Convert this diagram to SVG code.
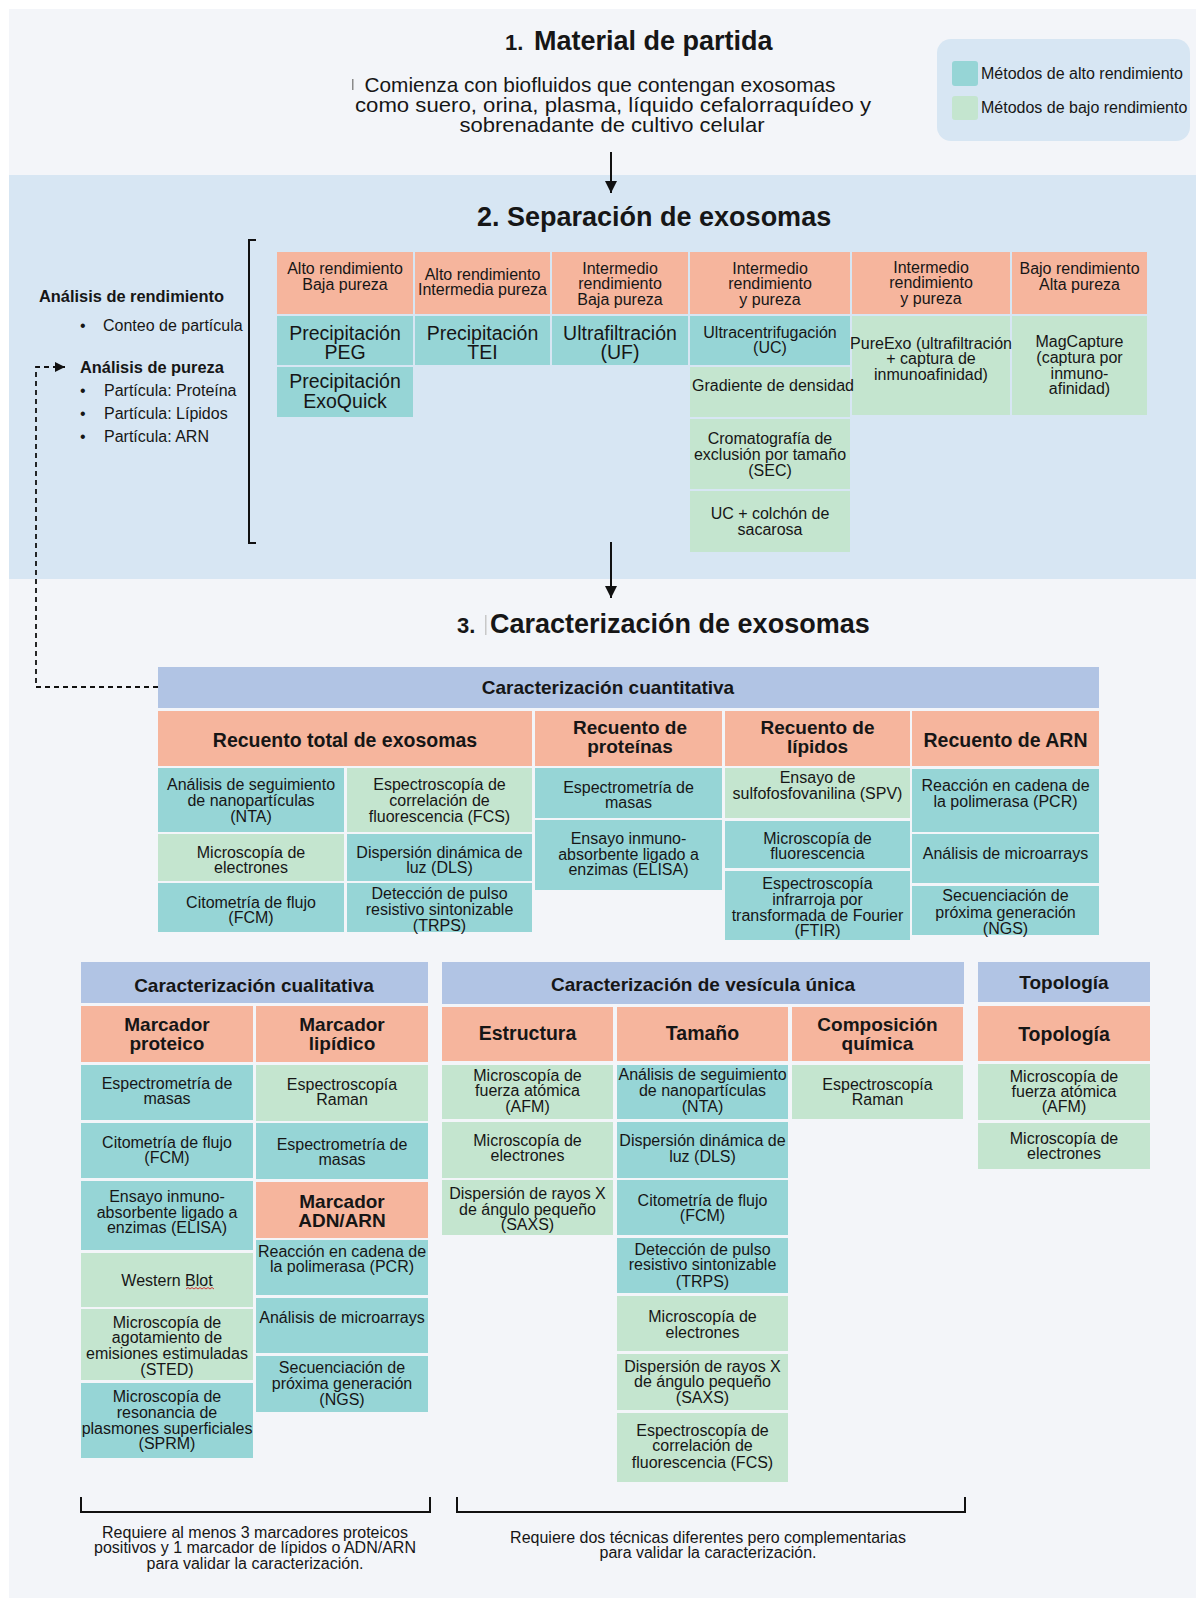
<svg xmlns="http://www.w3.org/2000/svg" width="1196" height="1598" viewBox="0 0 1196 1598">
<defs>
<style>
.hi{fill:#96d5d6}
.lo{fill:#c4e5cf}
.hd{fill:#f6b59d}
.bar{fill:#b1c4e4}
text{font-family:"Liberation Sans",Arial,sans-serif;fill:#161616}
.c{font-size:16px;text-anchor:middle}
.l20{font-size:19.5px;text-anchor:middle}
.bh{font-size:19.5px;font-weight:bold;text-anchor:middle}
.b2{font-size:19px;font-weight:bold;text-anchor:middle}
.tt{font-size:27px;font-weight:bold}
.lt{font-size:16px}
.lb{font-size:16.4px;font-weight:bold}
.ln{stroke:#111;stroke-width:2;fill:none}
</style>
<marker id="ah" viewBox="0 0 12 12" refX="12" refY="6" markerWidth="12" markerHeight="12" markerUnits="userSpaceOnUse" orient="auto"><path d="M0,0L12,6L0,12z" fill="#111"/></marker>
<marker id="ah2" viewBox="0 0 10 10" refX="10" refY="5" markerWidth="10" markerHeight="10" markerUnits="userSpaceOnUse" orient="auto"><path d="M0,0L10,5L0,10z" fill="#111"/></marker>
</defs>
<rect width="1196" height="1598" fill="#ffffff"/>
<rect x="9" y="9" width="1187" height="1589" fill="#f3f5f9"/>
<rect x="9" y="175" width="1187" height="404" fill="#d7e6f3"/>

<g id="legend">
<rect x="937" y="39" width="253" height="102" rx="14" fill="#d7e6f3"/>
<rect class="hi" x="952" y="61" width="26" height="25" rx="3"/>
<rect class="lo" x="952" y="96" width="26" height="24" rx="3"/>
<text class="lt" x="981" y="79">Métodos de alto rendimiento</text>
<text class="lt" x="981" y="113">Métodos de bajo rendimiento</text>
</g>

<g id="step1">
<text class="tt" x="505" y="50" style="font-size:22px">1.</text>
<text class="tt" x="534" y="50">Material de partida</text>
<rect x="352" y="79" width="1.5" height="11" fill="#8a8a8a"/>
<text style="font-size:21px;text-anchor:middle"><tspan x="600" y="92" textLength="471" lengthAdjust="spacingAndGlyphs">Comienza con biofluidos que contengan exosomas</tspan><tspan x="613" y="112" textLength="516" lengthAdjust="spacingAndGlyphs">como suero, orina, plasma, líquido cefalorraquídeo y</tspan><tspan x="612" y="132" textLength="305" lengthAdjust="spacingAndGlyphs">sobrenadante de cultivo celular</tspan></text>
</g>

<g id="step2-title">
<text class="tt" x="477" y="226">2. Separación de exosomas</text>
</g>

<g id="analysis">
<text class="lb" x="39" y="302">Análisis de rendimiento</text>
<text class="lt" x="80" y="331">•</text>
<text class="lt" x="103" y="331">Conteo de partícula</text>
<text class="lb" x="80" y="373">Análisis de pureza</text>
<text class="lt" x="80" y="396">•</text>
<text class="lt" x="104" y="396">Partícula: Proteína</text>
<text class="lt" x="80" y="419">•</text>
<text class="lt" x="104" y="419">Partícula: Lípidos</text>
<text class="lt" x="80" y="442">•</text>
<text class="lt" x="104" y="442">Partícula: ARN</text>
<path class="ln" d="M256,240H249V543H256"/>
</g>

<g id="sep-h1"><rect class="hd" x="277" y="252" width="136" height="62"/><text class="c"><tspan x="345" y="274">Alto rendimiento</tspan><tspan x="345" y="290">Baja pureza</tspan></text></g>
<g id="sep-h2"><rect class="hd" x="415" y="252" width="135" height="62"/><text class="c"><tspan x="482.5" y="280">Alto rendimiento</tspan><tspan x="482.5" y="295">Intermedia pureza</tspan></text></g>
<g id="sep-h3"><rect class="hd" x="552" y="252" width="136" height="62"/><text class="c"><tspan x="620" y="274">Intermedio</tspan><tspan x="620" y="289">rendimiento</tspan><tspan x="620" y="305">Baja pureza</tspan></text></g>
<g id="sep-h4"><rect class="hd" x="690" y="252" width="160" height="62"/><text class="c"><tspan x="770" y="274">Intermedio</tspan><tspan x="770" y="289">rendimiento</tspan><tspan x="770" y="305">y pureza</tspan></text></g>
<g id="sep-h5"><rect class="hd" x="852" y="252" width="158" height="62"/><text class="c"><tspan x="931" y="273">Intermedio</tspan><tspan x="931" y="288">rendimiento</tspan><tspan x="931" y="304">y pureza</tspan></text></g>
<g id="sep-h6"><rect class="hd" x="1012" y="252" width="135" height="62"/><text class="c"><tspan x="1079.5" y="274">Bajo rendimiento</tspan><tspan x="1079.5" y="290">Alta pureza</tspan></text></g>

<g id="sep-peg"><rect class="hi" x="277" y="316" width="136" height="49"/><text class="l20"><tspan x="345" y="340">Precipitación</tspan><tspan x="345" y="359">PEG</tspan></text></g>
<g id="sep-tei"><rect class="hi" x="415" y="316" width="135" height="49"/><text class="l20"><tspan x="482.5" y="340">Precipitación</tspan><tspan x="482.5" y="359">TEI</tspan></text></g>
<g id="sep-uf"><rect class="hi" x="552" y="316" width="136" height="49"/><text class="l20"><tspan x="620" y="340">Ultrafiltración</tspan><tspan x="620" y="359">(UF)</tspan></text></g>
<g id="sep-uc"><rect class="hi" x="690" y="316" width="160" height="49"/><text class="c"><tspan x="770" y="338">Ultracentrifugación</tspan><tspan x="770" y="353">(UC)</tspan></text></g>
<g id="sep-exoquick"><rect class="hi" x="277" y="367" width="136" height="50"/><text class="l20"><tspan x="345" y="388">Precipitación</tspan><tspan x="345" y="408">ExoQuick</tspan></text></g>
<g id="sep-sec"><rect class="lo" x="690" y="419" width="160" height="70"/><text class="c"><tspan x="770" y="444">Cromatografía de</tspan><tspan x="770" y="460">exclusión por tamaño</tspan><tspan x="770" y="476">(SEC)</tspan></text></g>
<g id="sep-sac"><rect class="lo" x="690" y="491" width="160" height="61"/><text class="c"><tspan x="770" y="519">UC + colchón de</tspan><tspan x="770" y="535">sacarosa</tspan></text></g>
<g id="sep-pureexo"><rect class="lo" x="852" y="316" width="158" height="99"/><text class="c"><tspan x="931" y="349">PureExo (ultrafiltración</tspan><tspan x="931" y="364">+ captura de</tspan><tspan x="931" y="380">inmunoafinidad)</tspan></text></g>
<g id="sep-grad"><rect class="lo" x="690" y="367" width="160" height="50"/><text class="c"><tspan x="773" y="391">Gradiente de densidad</tspan></text></g>
<g id="sep-mag"><rect class="lo" x="1012" y="316" width="135" height="99"/><text class="c"><tspan x="1079.5" y="347">MagCapture</tspan><tspan x="1079.5" y="363">(captura por</tspan><tspan x="1079.5" y="379">inmuno-</tspan><tspan x="1079.5" y="394">afinidad)</tspan></text></g>

<g id="step3-title">
<text class="tt" x="457" y="633" style="font-size:22px">3.</text>
<rect x="485" y="615" width="1.5" height="20" fill="#c8c8c8"/>
<text class="tt" x="490" y="633">Caracterización de exosomas</text>
</g>

<g id="q-bar"><rect class="bar" x="158" y="667" width="941" height="41"/><text class="bh" x="608" y="694" style="font-size:19px">Caracterización cuantitativa</text></g>
<g id="q-h-total"><rect class="hd" x="158" y="711" width="374" height="55"/><text class="bh" x="345" y="747">Recuento total de exosomas</text></g>
<g id="q-h-prot"><rect class="hd" x="535" y="711" width="187" height="55"/><text class="b2"><tspan x="630" y="734">Recuento de</tspan><tspan x="630" y="753">proteínas</tspan></text></g>
<g id="q-h-lip"><rect class="hd" x="725" y="711" width="185" height="55"/><text class="b2"><tspan x="817.5" y="734">Recuento de</tspan><tspan x="817.5" y="753">lípidos</tspan></text></g>
<g id="q-h-arn"><rect class="hd" x="912" y="711" width="187" height="55"/><text class="bh" x="1005.5" y="747">Recuento de ARN</text></g>

<g id="q-nta"><rect class="hi" x="158" y="768" width="186" height="64"/><text class="c"><tspan x="251" y="790">Análisis de seguimiento</tspan><tspan x="251" y="806">de nanopartículas</tspan><tspan x="251" y="822">(NTA)</tspan></text></g>
<g id="q-fcs"><rect class="lo" x="347" y="768" width="185" height="64"/><text class="c"><tspan x="439.5" y="790">Espectroscopía de</tspan><tspan x="439.5" y="806">correlación de</tspan><tspan x="439.5" y="822">fluorescencia (FCS)</tspan></text></g>
<g id="q-em"><rect class="lo" x="158" y="834" width="186" height="47"/><text class="c"><tspan x="251" y="858">Microscopía de</tspan><tspan x="251" y="873">electrones</tspan></text></g>
<g id="q-dls"><rect class="hi" x="347" y="834" width="185" height="47"/><text class="c"><tspan x="439.5" y="858">Dispersión dinámica de</tspan><tspan x="439.5" y="873">luz (DLS)</tspan></text></g>
<g id="q-fcm"><rect class="hi" x="158" y="883" width="186" height="49"/><text class="c"><tspan x="251" y="908">Citometría de flujo</tspan><tspan x="251" y="923">(FCM)</tspan></text></g>
<g id="q-trps"><rect class="hi" x="347" y="883" width="185" height="49"/><text class="c"><tspan x="439.5" y="899">Detección de pulso</tspan><tspan x="439.5" y="915">resistivo sintonizable</tspan><tspan x="439.5" y="931">(TRPS)</tspan></text></g>
<g id="q-ms"><rect class="hi" x="535" y="768" width="187" height="50"/><text class="c"><tspan x="628.5" y="793">Espectrometría de</tspan><tspan x="628.5" y="808">masas</tspan></text></g>
<g id="q-elisa"><rect class="hi" x="535" y="820" width="187" height="70"/><text class="c"><tspan x="628.5" y="844">Ensayo inmuno-</tspan><tspan x="628.5" y="860">absorbente ligado a</tspan><tspan x="628.5" y="875">enzimas (ELISA)</tspan></text></g>
<g id="q-spv"><rect class="lo" x="725" y="768" width="185" height="50"/><text class="c"><tspan x="817.5" y="783">Ensayo de</tspan><tspan x="817.5" y="799">sulfofosfovanilina (SPV)</tspan></text></g>
<g id="q-fm"><rect class="hi" x="725" y="821" width="185" height="47"/><text class="c"><tspan x="817.5" y="844">Microscopía de</tspan><tspan x="817.5" y="859">fluorescencia</tspan></text></g>
<g id="q-ftir"><rect class="hi" x="725" y="871" width="185" height="69"/><text class="c"><tspan x="817.5" y="889">Espectroscopía</tspan><tspan x="817.5" y="905">infrarroja por</tspan><tspan x="817.5" y="921">transformada de Fourier</tspan><tspan x="817.5" y="936">(FTIR)</tspan></text></g>
<g id="q-pcr"><rect class="hi" x="912" y="769" width="187" height="63"/><text class="c"><tspan x="1005.5" y="791">Reacción en cadena de</tspan><tspan x="1005.5" y="807">la polimerasa (PCR)</tspan></text></g>
<g id="q-micro"><rect class="hi" x="912" y="834" width="187" height="49"/><text class="c"><tspan x="1005.5" y="859">Análisis de microarrays</tspan></text></g>
<g id="q-ngs"><rect class="hi" x="912" y="886" width="187" height="49"/><text class="c"><tspan x="1005.5" y="901">Secuenciación de</tspan><tspan x="1005.5" y="918">próxima generación</tspan><tspan x="1005.5" y="934">(NGS)</tspan></text></g>

<g id="ql-bar"><rect class="bar" x="81" y="962" width="347" height="41"/><text class="bh" x="254" y="992" style="font-size:19px">Caracterización cualitativa</text></g>
<g id="ql-h-prot"><rect class="hd" x="81" y="1006" width="172" height="56"/><text class="b2"><tspan x="167" y="1031">Marcador</tspan><tspan x="167" y="1050">proteico</tspan></text></g>
<g id="ql-h-lip"><rect class="hd" x="256" y="1006" width="172" height="56"/><text class="b2"><tspan x="342" y="1031">Marcador</tspan><tspan x="342" y="1050">lipídico</tspan></text></g>
<g id="ql-ms"><rect class="hi" x="81" y="1065" width="172" height="55"/><text class="c"><tspan x="167" y="1089">Espectrometría de</tspan><tspan x="167" y="1104">masas</tspan></text></g>
<g id="ql-fcm"><rect class="hi" x="81" y="1123" width="172" height="55"/><text class="c"><tspan x="167" y="1148">Citometría de flujo</tspan><tspan x="167" y="1163">(FCM)</tspan></text></g>
<g id="ql-elisa"><rect class="hi" x="81" y="1181" width="172" height="69"/><text class="c"><tspan x="167" y="1202">Ensayo inmuno-</tspan><tspan x="167" y="1218">absorbente ligado a</tspan><tspan x="167" y="1233">enzimas (ELISA)</tspan></text></g>
<g id="ql-wb"><rect class="lo" x="81" y="1253" width="172" height="54"/><text class="c"><tspan x="167" y="1286">Western Blot</tspan></text><path d="M186,1289l2,-1.5l2,1.5l2,-1.5l2,1.5l2,-1.5l2,1.5l2,-1.5l2,1.5l2,-1.5l2,1.5l2,-1.5l2,1.5l2,-1.5l2,1.5" fill="none" stroke="#d23c3c" stroke-width="1"/></g>
<g id="ql-sted"><rect class="lo" x="81" y="1309" width="172" height="71"/><text class="c"><tspan x="167" y="1328">Microscopía de</tspan><tspan x="167" y="1343">agotamiento de</tspan><tspan x="167" y="1359">emisiones estimuladas</tspan><tspan x="167" y="1375">(STED)</tspan></text></g>
<g id="ql-sprm"><rect class="hi" x="81" y="1383" width="172" height="75"/><text class="c"><tspan x="167" y="1402">Microscopía de</tspan><tspan x="167" y="1418">resonancia de</tspan><tspan x="167" y="1434">plasmones superficiales</tspan><tspan x="167" y="1449">(SPRM)</tspan></text></g>
<g id="ql-raman"><rect class="lo" x="256" y="1065" width="172" height="56"/><text class="c"><tspan x="342" y="1090">Espectroscopía</tspan><tspan x="342" y="1105">Raman</tspan></text></g>
<g id="ql-ms2"><rect class="hi" x="256" y="1123" width="172" height="56"/><text class="c"><tspan x="342" y="1150">Espectrometría de</tspan><tspan x="342" y="1165">masas</tspan></text></g>
<g id="ql-h-adn"><rect class="hd" x="256" y="1182" width="172" height="56"/><text class="b2"><tspan x="342" y="1208">Marcador</tspan><tspan x="342" y="1227">ADN/ARN</tspan></text></g>
<g id="ql-pcr"><rect class="hi" x="256" y="1240" width="172" height="55"/><text class="c"><tspan x="342" y="1257">Reacción en cadena de</tspan><tspan x="342" y="1272">la polimerasa (PCR)</tspan></text></g>
<g id="ql-micro"><rect class="hi" x="256" y="1298" width="172" height="55"/><text class="c"><tspan x="342" y="1323">Análisis de microarrays</tspan></text></g>
<g id="ql-ngs"><rect class="hi" x="256" y="1356" width="172" height="56"/><text class="c"><tspan x="342" y="1373">Secuenciación de</tspan><tspan x="342" y="1389">próxima generación</tspan><tspan x="342" y="1405">(NGS)</tspan></text></g>

<g id="sv-bar"><rect class="bar" x="442" y="962" width="522" height="42"/><text class="bh" x="703" y="991" style="font-size:19px">Caracterización de vesícula única</text></g>
<g id="sv-h-est"><rect class="hd" x="442" y="1007" width="171" height="54"/><text class="bh" x="527.5" y="1040">Estructura</text></g>
<g id="sv-h-tam"><rect class="hd" x="617" y="1007" width="171" height="54"/><text class="bh" x="702.5" y="1040">Tamaño</text></g>
<g id="sv-h-comp"><rect class="hd" x="792" y="1007" width="171" height="54"/><text class="b2"><tspan x="877.5" y="1031">Composición</tspan><tspan x="877.5" y="1050">química</tspan></text></g>
<g id="sv-afm"><rect class="lo" x="442" y="1065" width="171" height="54"/><text class="c"><tspan x="527.5" y="1081">Microscopía de</tspan><tspan x="527.5" y="1096">fuerza atómica</tspan><tspan x="527.5" y="1112">(AFM)</tspan></text></g>
<g id="sv-em"><rect class="lo" x="442" y="1122" width="171" height="56"/><text class="c"><tspan x="527.5" y="1146">Microscopía de</tspan><tspan x="527.5" y="1161">electrones</tspan></text></g>
<g id="sv-saxs"><rect class="lo" x="442" y="1180" width="171" height="55"/><text class="c"><tspan x="527.5" y="1199">Dispersión de rayos X</tspan><tspan x="527.5" y="1215">de ángulo pequeño</tspan><tspan x="527.5" y="1230">(SAXS)</tspan></text></g>
<g id="sv-nta"><rect class="hi" x="617" y="1065" width="171" height="54"/><text class="c"><tspan x="702.5" y="1080">Análisis de seguimiento</tspan><tspan x="702.5" y="1096">de nanopartículas</tspan><tspan x="702.5" y="1112">(NTA)</tspan></text></g>
<g id="sv-dls"><rect class="hi" x="617" y="1122" width="171" height="56"/><text class="c"><tspan x="702.5" y="1146">Dispersión dinámica de</tspan><tspan x="702.5" y="1162">luz (DLS)</tspan></text></g>
<g id="sv-fcm"><rect class="hi" x="617" y="1180" width="171" height="55"/><text class="c"><tspan x="702.5" y="1206">Citometría de flujo</tspan><tspan x="702.5" y="1221">(FCM)</tspan></text></g>
<g id="sv-trps"><rect class="hi" x="617" y="1238" width="171" height="55"/><text class="c"><tspan x="702.5" y="1255">Detección de pulso</tspan><tspan x="702.5" y="1270">resistivo sintonizable</tspan><tspan x="702.5" y="1287">(TRPS)</tspan></text></g>
<g id="sv-em2"><rect class="lo" x="617" y="1296" width="171" height="55"/><text class="c"><tspan x="702.5" y="1322">Microscopía de</tspan><tspan x="702.5" y="1338">electrones</tspan></text></g>
<g id="sv-saxs2"><rect class="lo" x="617" y="1354" width="171" height="56"/><text class="c"><tspan x="702.5" y="1372">Dispersión de rayos X</tspan><tspan x="702.5" y="1387">de ángulo pequeño</tspan><tspan x="702.5" y="1403">(SAXS)</tspan></text></g>
<g id="sv-fcs"><rect class="lo" x="617" y="1413" width="171" height="69"/><text class="c"><tspan x="702.5" y="1436">Espectroscopía de</tspan><tspan x="702.5" y="1451">correlación de</tspan><tspan x="702.5" y="1468">fluorescencia (FCS)</tspan></text></g>
<g id="sv-raman"><rect class="lo" x="792" y="1065" width="171" height="54"/><text class="c"><tspan x="877.5" y="1090">Espectroscopía</tspan><tspan x="877.5" y="1105">Raman</tspan></text></g>

<g id="tp-bar"><rect class="bar" x="978" y="962" width="172" height="40"/><text class="bh" x="1064" y="989" style="font-size:19px">Topología</text></g>
<g id="tp-h"><rect class="hd" x="978" y="1006" width="172" height="55"/><text class="bh" x="1064" y="1041">Topología</text></g>
<g id="tp-afm"><rect class="lo" x="978" y="1064" width="172" height="56"/><text class="c"><tspan x="1064" y="1082">Microscopía de</tspan><tspan x="1064" y="1097">fuerza atómica</tspan><tspan x="1064" y="1112">(AFM)</tspan></text></g>
<g id="tp-em"><rect class="lo" x="978" y="1123" width="172" height="46"/><text class="c"><tspan x="1064" y="1144">Microscopía de</tspan><tspan x="1064" y="1159">electrones</tspan></text></g>

<g id="notes">
<path class="ln" d="M81,1497V1512H430V1497"/>
<path class="ln" d="M457,1497V1512H965V1497"/>
<text class="c"><tspan x="255" y="1538">Requiere al menos 3 marcadores proteicos</tspan><tspan x="255" y="1553">positivos y 1 marcador de lípidos o ADN/ARN</tspan><tspan x="255" y="1569">para validar la caracterización.</tspan></text>
<text class="c"><tspan x="708" y="1543">Requiere dos técnicas diferentes pero complementarias</tspan><tspan x="708" y="1558">para validar la caracterización.</tspan></text>
</g>

<g id="connectors">
<line class="ln" x1="611" y1="152" x2="611" y2="193" marker-end="url(#ah)"/>
<line class="ln" x1="611" y1="542" x2="611" y2="598" marker-end="url(#ah)"/>
<path d="M158,687H36V367H65" fill="none" stroke="#111" stroke-width="1.8" stroke-dasharray="5,4" marker-end="url(#ah2)"/>
</g>
</svg>
